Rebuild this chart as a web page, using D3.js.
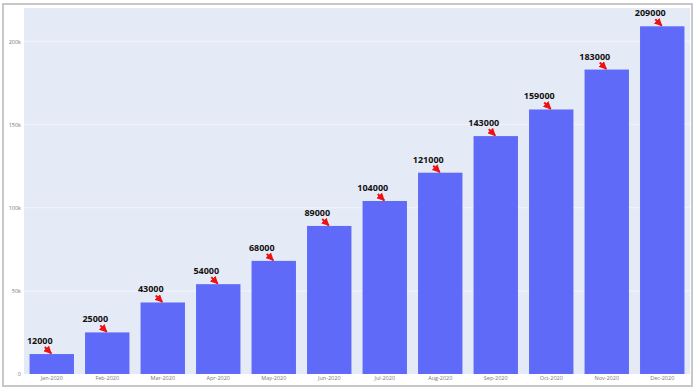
<!DOCTYPE html>
<html>
<head>
<meta charset="utf-8">
<script src="https://cdn.jsdelivr.net/npm/d3@7"></script>
<style>
  html, body { margin: 0; padding: 0; background: #fff; }
  svg { display: block; }
</style>
</head>
<body>
<svg id="chart" width="698" height="391"></svg>
<script>
const months = ["Jan-2020","Feb-2020","Mar-2020","Apr-2020","May-2020","Jun-2020","Jul-2020","Aug-2020","Sep-2020","Oct-2020","Nov-2020","Dec-2020"];
const sales = [12000, 25000, 43000, 54000, 68000, 89000, 104000, 121000, 143000, 159000, 183000, 209000];
const yTicks = [0, 50000, 100000, 150000, 200000];
const yTickLabels = ["0", "50k", "100k", "150k", "200k"];

const svg = d3.select("#chart");
const plot = { left: 24, right: 690, top: 8, bottom: 374 };

// outer frame
svg.append("rect").attr("x", 3).attr("y", 4).attr("width", 689).attr("height", 382)
  .attr("fill", "#fff").attr("stroke", "#c8c8c8").attr("stroke-width", 2);

// plot background
svg.append("rect").attr("x", plot.left).attr("y", plot.top)
  .attr("width", plot.right - plot.left).attr("height", plot.bottom - plot.top)
  .attr("fill", "#e5ebf6");

const x = d3.scaleBand().domain(months).range([plot.left, plot.right]).paddingInner(0.2).paddingOuter(0.1);
const y = d3.scaleLinear().domain([0, 220000]).range([plot.bottom, plot.top]);

// gridlines (faint)
svg.append("g").selectAll("line").data(yTicks.slice(1)).join("line")
  .attr("x1", plot.left).attr("x2", plot.right)
  .attr("y1", d => y(d)).attr("y2", d => y(d))
  .attr("stroke", "#f1f4fa").attr("stroke-width", 1);

// y axis
const yAxis = d3.axisLeft(y).tickValues(yTicks).tickFormat((d, i) => yTickLabels[i]).tickSize(0).tickPadding(3);
const gy = svg.append("g").attr("transform", `translate(${plot.left},0)`).call(yAxis);
gy.select(".domain").remove();
gy.selectAll("text").attr("font-family", "'Open Sans', sans-serif").attr("font-size", 5.5).attr("fill", "#777");

// x axis
const xAxis = d3.axisBottom(x).tickSize(0).tickPadding(2);
const gx = svg.append("g").attr("transform", `translate(0,${plot.bottom})`).call(xAxis);
gx.select(".domain").remove();
gx.selectAll("text").attr("font-family", "'Open Sans', sans-serif").attr("font-size", 5.5).attr("fill", "#777");

// bars
svg.append("g").selectAll("rect").data(months).join("rect")
  .attr("x", d => x(d)).attr("width", x.bandwidth())
  .attr("y", (d, i) => y(sales[i])).attr("height", (d, i) => y(0) - y(sales[i]))
  .attr("fill", "#5f6af8");

// annotations with arrows
const defs = svg.append("defs");
defs.append("marker").attr("id", "arrowhead").attr("viewBox", "0 0 10 10")
  .attr("refX", 9).attr("refY", 5).attr("markerWidth", 4).attr("markerHeight", 4)
  .attr("markerUnits", "strokeWidth").attr("orient", "auto")
  .append("path").attr("d", "M0,0 L10,5 L0,10 z").attr("fill", "#ee1111");

const ann = svg.append("g");
months.forEach((m, i) => {
  const cx = x(m) + x.bandwidth() / 2;
  const ty = y(sales[i]);
  ann.append("line")
    .attr("x1", cx - 7).attr("y1", ty - 7).attr("x2", cx - 0.5).attr("y2", ty - 0.5)
    .attr("stroke", "#ee1111").attr("stroke-width", 2).attr("marker-end", "url(#arrowhead)");
  ann.append("text")
    .attr("x", cx - 12).attr("y", ty - 10)
    .attr("text-anchor", "middle")
    .attr("font-family", "'Open Sans', sans-serif").attr("font-weight", "bold")
    .attr("font-size", 9).attr("fill", "#111")
    .text(sales[i]);
});
</script>
</body>
</html>
